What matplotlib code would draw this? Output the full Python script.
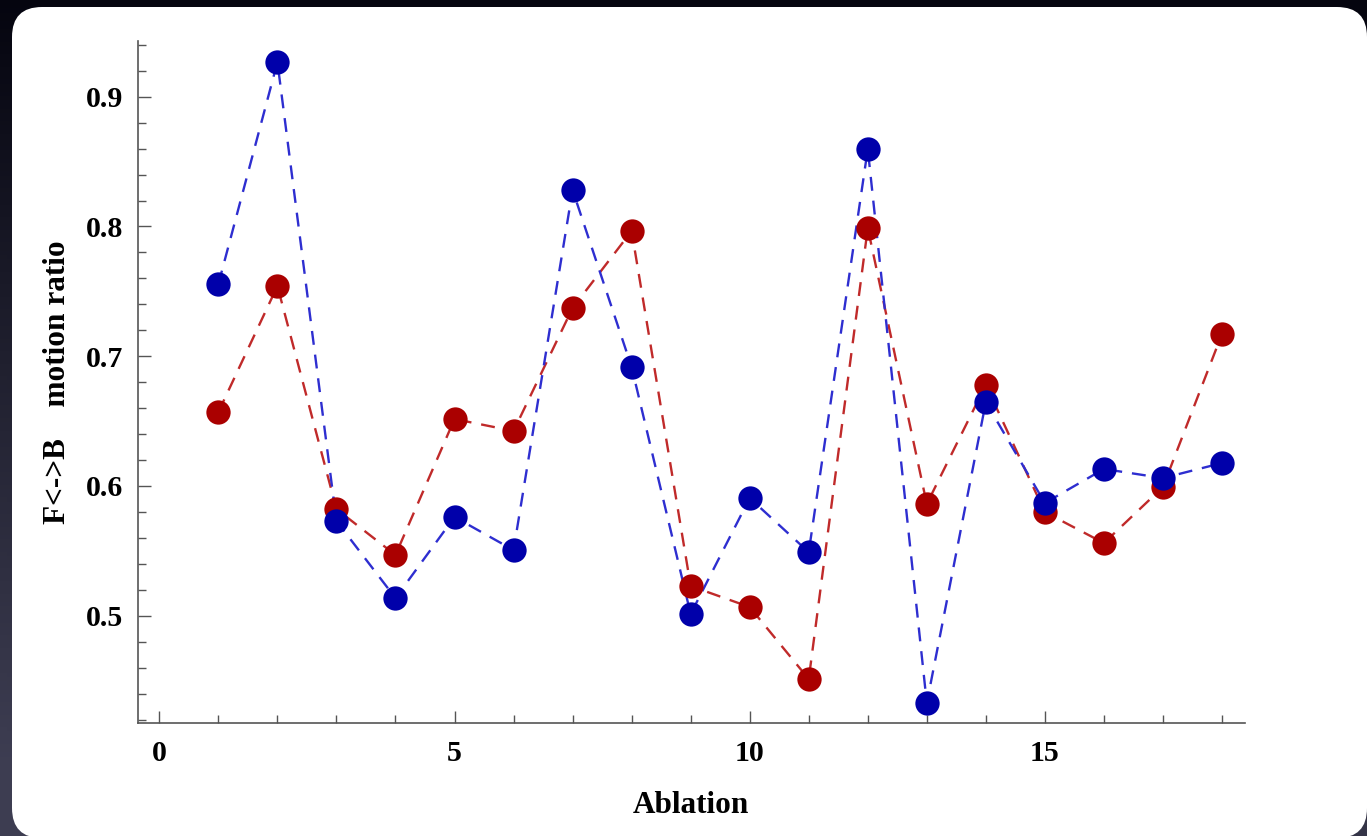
import numpy as np
import matplotlib
matplotlib.use("Agg")
import matplotlib.pyplot as plt
from matplotlib.patches import FancyBboxPatch
from matplotlib.ticker import MultipleLocator

# ---- data ----
ablation = list(range(1, 19))
blue_vals = [0.7556, 0.9267, 0.5730, 0.5136, 0.5761, 0.5506, 0.8281, 0.6917, 0.5013,
             0.5907, 0.5490, 0.8597, 0.4327, 0.6647, 0.5869, 0.6131, 0.6061, 0.6177]
red_vals = [0.6570, 0.7541, 0.5822, 0.5468, 0.6516, 0.6424, 0.7372, 0.7965, 0.5229,
            0.5067, 0.4512, 0.7988, 0.5861, 0.6779, 0.5799, 0.5560, 0.5992, 0.7172]
x_label = "Ablation"
y_label = "F<->B    motion ratio"

W, H, DPI = 1367, 836, 100
fig = plt.figure(figsize=(W / DPI, H / DPI), dpi=DPI)

# background gradient
bg = fig.add_axes([0, 0, 1, 1], zorder=-10)
bg.set_axis_off()
yy, xx = np.mgrid[0:1:200j, 0:1:200j]
t = np.clip(yy * 0.85 + (1 - xx) * 0.25 * yy, 0, 1)
top = np.array([0.02, 0.02, 0.06])
bot = np.array([0.24, 0.24, 0.32])
img = top[None, None, :] * (1 - t[..., None]) + bot[None, None, :] * t[..., None]
bg.imshow(img, extent=[0, 1, 0, 1], aspect="auto", origin="upper")
bg.set_xlim(0, 1)
bg.set_ylim(0, 1)

# white rounded panel (pixel coords)
px0, py0, px1, py1 = 12, 7, 1367, 838
r = 30
panel = FancyBboxPatch((px0, H - py1), px1 - px0, py1 - py0,
                       boxstyle=f"round,pad=0,rounding_size={r}",
                       transform=None, facecolor="white", edgecolor="none", zorder=1)
bg.add_artist(panel)

serif = ["Liberation Serif", "DejaVu Serif"]

ax = fig.add_axes([137.5 / W, 1 - 723.3 / H, (1245 - 137.5) / W, (723.3 - 40.7) / H])
ax.set_facecolor("none")
ax.set_xlim(-0.37, 18.39)
ax.set_ylim(0.4171, 0.9432)

dash = (0, (5.9, 4.2))
ax.plot(ablation, red_vals, linestyle=dash, color="#c02a2a", lw=1.7, zorder=2)
ax.plot(ablation, blue_vals, linestyle=dash, color="#2e2ed0", lw=1.7, zorder=3)
ax.plot(ablation, red_vals, linestyle="none", marker="o", ms=17.5,
        mfc="#aa0000", mec="#aa0000", mew=0, zorder=4)
ax.plot(ablation, blue_vals, linestyle="none", marker="o", ms=17.5,
        mfc="#0000aa", mec="#0000aa", mew=0, zorder=5)

for s in ["top", "right"]:
    ax.spines[s].set_visible(False)
for s in ["left", "bottom"]:
    ax.spines[s].set_color("#555555")
    ax.spines[s].set_linewidth(1.2)

ax.xaxis.set_major_locator(MultipleLocator(5))
ax.xaxis.set_minor_locator(MultipleLocator(1))
ax.yaxis.set_major_locator(MultipleLocator(0.1))
ax.yaxis.set_minor_locator(MultipleLocator(0.02))
ax.tick_params(which="both", direction="in", color="#555555", width=1.0)
ax.tick_params(which="major", length=9)
ax.tick_params(which="minor", length=5.5)
ax.tick_params(axis="x", which="major", pad=12)
ax.tick_params(axis="y", which="major", pad=10)

ax.set_xticks([0, 5, 10, 15])
ax.set_xticklabels(["0", "5", "10", "15"])
ax.set_yticks([0.5, 0.6, 0.7, 0.8, 0.9])
ax.set_yticklabels(["0.5", "0.6", "0.7", "0.8", "0.9"])
for lab in ax.get_xticklabels() + ax.get_yticklabels():
    lab.set_fontfamily(serif)
    lab.set_fontweight("bold")
    lab.set_fontsize(21.5)
    lab.set_color("black")

ax.set_xlabel(x_label, fontfamily=serif, fontweight="bold", fontsize=22.5, labelpad=17)
ax.set_ylabel(y_label, fontfamily=serif, fontweight="bold", fontsize=22.5, labelpad=10)

fig.savefig("out.png", dpi=DPI)
